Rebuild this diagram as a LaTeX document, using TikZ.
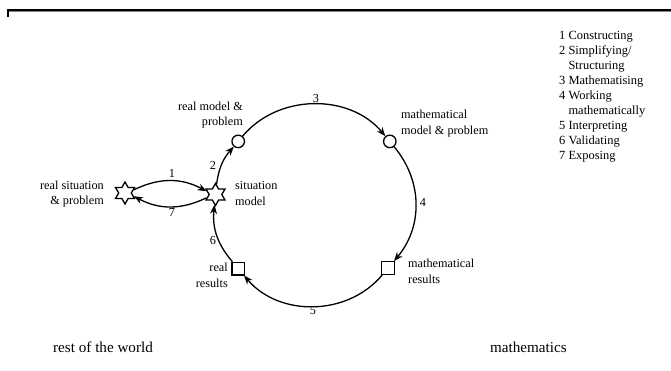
\documentclass[tikz,border=0pt]{standalone}
\usepackage{fontspec}
\setmainfont{Liberation Serif}
\usetikzlibrary{shapes.geometric,arrows.meta}
\begin{document}
\begin{tikzpicture}[x=1bp,y=1bp,
  lbl/.style={font=\fontsize{12.3}{15.5}\selectfont, inner sep=0pt},
  num/.style={font=\fontsize{12.3}{14}\selectfont, inner sep=0pt},
  big/.style={font=\fontsize{15.2}{17}\selectfont, inner sep=0pt},
  legend/.style={font=\fontsize{12.5}{15}\selectfont, inner sep=0pt, align=left},
  starnode/.style={star, star points=6, star point ratio=1.75, minimum size=22bp, inner sep=0pt, draw, line width=1.3bp},
  circnode/.style={circle, draw, line width=1.3bp, minimum size=12.5bp, inner sep=0pt},
  sqnode/.style={rectangle, draw, line width=1.3bp, minimum size=12.5bp, inner sep=0pt},
  arr/.style={line width=1.3bp, -{Stealth[length=9bp,width=7bp]}},
]
\useasboundingbox (0,0) rectangle (671,-370);
% top frame
\draw[gray, line width=1bp] (9,-11.2) -- (671,-11.2);
\draw[line width=1.5bp] (8,-16.5) -- (8,-9.8) -- (671,-9.8);

% nodes
\node[starnode] (rs) at (125,-193) {};
\node[starnode] (sm) at (215.5,-194.5) {};
\node[circnode] (rm) at (238.2,-141.4) {};
\node[circnode] (mm) at (389.8,-141.4) {};
\node[sqnode] (mr) at (388,-268) {};
\node[sqnode] (rr) at (238.2,-268.6) {};

% texts
\node[lbl, align=right, anchor=east] (trs) at (104,-194) {real situation\\\& problem};
\node[lbl, align=left, anchor=west] (tsm) at (235,-193.5) {situation\\model};
\node[lbl, align=right, anchor=east] (trm) at (243,-115) {real model \&\\problem};
\node[lbl, align=left, anchor=west] (tmm) at (401,-123.5) {mathematical\\model \& problem};
\node[lbl, align=left, anchor=west] (tmr) at (408,-271.5) {mathematical\\results};
\node[lbl, align=right, anchor=east] (trr) at (228,-275.5) {real\\results};

% connectors
\draw[arr] (rs.20) to[bend left=27] (sm.160);
\draw[arr] (sm.200) to[bend left=27] (rs.-20);
\draw[arr] (sm) to[bend left=17] (rm);
\draw[arr] (rm) to[bend left=50] (mm);
\draw[arr] (mm) to[bend left=40] (mr);
\draw[arr] (mr) to[bend left=50] (rr);
\draw[arr] (rr) to[bend left=23] (sm);

% numbers
\node[num] (n1) at (172,-173) {1};
\node[num] (n7) at (172,-212) {7};
\node[num] (n2) at (213,-165) {2};
\node[num] (n3) at (316,-98) {3};
\node[num] (n4) at (423,-202) {4};
\node[num] (n5) at (313,-311) {5};
\node[num] (n6) at (213,-240) {6};

% legend
\node[legend, anchor=north west] (leg) at (559,-31) {1 Constructing\\2 Simplifying/\\\phantom{2 }Structuring\\3 Mathematising\\4 Working\\\phantom{4 }mathematically\\5 Interpreting\\6 Validating\\7 Exposing};

% bottom
\node[big, anchor=west] (rw) at (53,-347) {rest of the world};
\node[big, anchor=west] (ma) at (490,-347) {mathematics};
\end{tikzpicture}
\end{document}
